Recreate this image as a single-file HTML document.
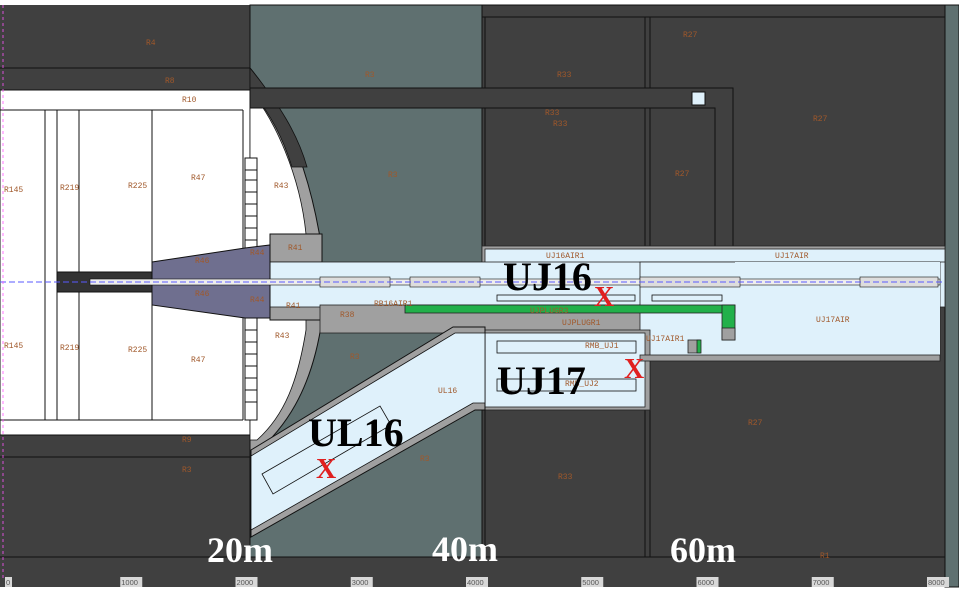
<!DOCTYPE html>
<html><head><meta charset="utf-8"><style>
html,body{margin:0;padding:0;background:#fff;width:959px;height:592px;overflow:hidden}
svg{display:block}
.lb{font-family:"Liberation Mono",monospace;font-size:8px;fill:#a0582a}
.big{font-family:"Liberation Serif",serif;font-weight:bold}
</style></head><body>
<svg id="geo" width="959" height="592" viewBox="0 0 959 592" xmlns="http://www.w3.org/2000/svg">
<rect x="0" y="0" width="959" height="592" fill="#fff"/>
<rect x="0" y="5" width="959" height="582" fill="#404040"/>
<g stroke="#111" stroke-width="1">
<line x1="0" y1="68" x2="250" y2="68"/>
<line x1="0" y1="90" x2="250" y2="90"/>
<rect x="0" y="90" width="250" height="345" fill="#fff"/>
<line x1="0" y1="457" x2="250" y2="457"/>
<line x1="0" y1="557" x2="250" y2="557"/>
<line x1="45" y1="110" x2="45" y2="420"/><line x1="57" y1="110" x2="57" y2="420"/>
<line x1="79" y1="110" x2="79" y2="420"/><line x1="152" y1="110" x2="152" y2="420"/>
<line x1="243" y1="110" x2="243" y2="420"/>
<line x1="0" y1="110" x2="243" y2="110"/><line x1="0" y1="420" x2="243" y2="420"/>
</g>
<rect x="250" y="5" width="232" height="552" fill="#5f7070" stroke="#111"/>
<g stroke="#111" fill="none">
<rect x="482" y="5" width="463" height="552" fill="#404040"/>
<line x1="482" y1="17" x2="945" y2="17"/>
<line x1="485" y1="17" x2="485" y2="557"/>
<line x1="645" y1="17" x2="645" y2="557"/><line x1="650" y1="17" x2="650" y2="557"/>
<rect x="945" y="5" width="14" height="582" fill="#5f7070"/>
</g>
<!-- cavern arc -->
<path d="M250,68 C285,110 310,170 322,250 L322,320 C312,390 285,430 250,458 Z" fill="#a0a0a0" stroke="#111"/>
<path d="M250,68 C280,105 298,135 307,167 L292,167 C282,135 268,110 250,90 Z" fill="#404040" stroke="#111" stroke-width="0.8"/>
<path d="M250,90 C275,120 300,175 306,234 L306,330 C298,380 285,415 257,440 L250,440 Z" fill="#fff" stroke="#111" stroke-width="0.8"/>
<g stroke="#111" fill="#fff">
<rect x="245" y="158" width="12" height="262"/>
<path d="M245,170H257M245,180H257M245,192H257M245,204H257M245,216H257M245,228H257M245,240H257M245,330H257M245,342H257M245,354H257M245,366H257M245,378H257M245,390H257M245,402H257"/>
</g>
<rect x="270" y="234" width="52" height="28" fill="#a0a0a0" stroke="#111"/>
<rect x="270" y="290" width="52" height="30" fill="#a0a0a0" stroke="#111"/>
<path d="M250,88 H733 V250 H715 V108 H250 Z" fill="#404040" stroke="#111"/>
<rect x="692" y="92" width="13" height="13" fill="#dff1fb" stroke="#111"/>
<g stroke="#222" stroke-width="0.8">
<rect x="482" y="246" width="463" height="18" fill="#a0a0a0"/>
<rect x="485" y="249" width="460" height="16" fill="#dff1fb"/>
<rect x="245" y="262" width="700" height="45" fill="#dff1fb"/>
<rect x="320" y="290" width="165" height="22" fill="#dff1fb" stroke="none"/>
<rect x="320" y="305" width="415" height="28" fill="#a0a0a0"/>
<rect x="640" y="262" width="300" height="96" fill="#dff1fb"/>
<rect x="735" y="262" width="205" height="96" fill="#dff1fb" stroke="none"/>
<rect x="405" y="305" width="330" height="8" fill="#22b04a"/>
<rect x="722" y="305" width="13" height="35" fill="#22b04a"/>
<rect x="722" y="328" width="13" height="12" fill="#a0a0a0"/>
<rect x="688" y="340" width="12" height="13" fill="#a0a0a0"/>
<rect x="697" y="340" width="4" height="13" fill="#22b04a"/>
<rect x="482" y="330" width="168" height="80" fill="#a0a0a0"/>
<rect x="485" y="333" width="160" height="74" fill="#dff1fb"/>
<rect x="497" y="341" width="139" height="12" fill="none" stroke="#111"/>
<rect x="497" y="379" width="139" height="12" fill="none" stroke="#111"/>
<rect x="497" y="295" width="138" height="6" fill="none" stroke="#111"/>
<rect x="652" y="295" width="70" height="6" fill="none" stroke="#111"/>
<rect x="640" y="355" width="300" height="6" fill="#a0a0a0"/>
</g>
<path d="M251,450 L453,327 L485,327 L485,410 L475,410 L251,537 Z" fill="#a0a0a0" stroke="#111"/>
<path d="M251,456 L455,333 L485,333 L485,403 L473,403 L251,530 Z" fill="#dff1fb" stroke="#111" stroke-width="0.8"/>
<path d="M262,474 L380,406 L391,425 L273,494 Z" fill="none" stroke="#111" stroke-width="0.8"/>
<path d="M152,262 L245,248 L270,245 L270,318 L245,318 L152,305 Z" fill="#6f6f8f" stroke="#111"/>
<rect x="57" y="272" width="95" height="20" fill="#333" stroke="#111"/>
<g stroke="#111" stroke-width="0.6" fill="#eee">
<rect x="90" y="279" width="850" height="6"/>
<rect x="320" y="277" width="70" height="10" fill="#ddd"/>
<rect x="410" y="277" width="70" height="10" fill="#ddd"/>
<rect x="640" y="277" width="100" height="10" fill="#ddd"/>
<rect x="860" y="277" width="78" height="10" fill="#ddd"/>
</g>
<line x1="0" y1="282" x2="945" y2="282" stroke="#5a5aff" stroke-dasharray="6,3" stroke-width="1"/>
<line x1="3" y1="5" x2="3" y2="580" stroke="#ff55ff" stroke-dasharray="3,3" stroke-width="0.8"/>
<g>
<text class="lb" x="146" y="45">R4</text><text class="lb" x="165" y="83">R8</text><text class="lb" x="182" y="102">R10</text>
<text class="lb" x="4" y="192">R145</text><text class="lb" x="60" y="190">R219</text><text class="lb" x="128" y="188">R225</text><text class="lb" x="191" y="180">R47</text>
<text class="lb" x="4" y="348">R145</text><text class="lb" x="60" y="350">R219</text><text class="lb" x="128" y="352">R225</text><text class="lb" x="191" y="362">R47</text>
<text class="lb" x="274" y="188">R43</text><text class="lb" x="275" y="338">R43</text><text class="lb" x="288" y="250">R41</text><text class="lb" x="286" y="308">R41</text>
<text class="lb" x="195" y="263">R46</text><text class="lb" x="195" y="296">R46</text><text class="lb" x="250" y="255">R44</text><text class="lb" x="250" y="302">R44</text>
<text class="lb" x="182" y="442">R9</text><text class="lb" x="182" y="472">R3</text>
<text class="lb" x="365" y="77">R3</text><text class="lb" x="388" y="177">R3</text><text class="lb" x="350" y="359">R3</text><text class="lb" x="420" y="461">R3</text>
<text class="lb" x="340" y="317">R38</text><text class="lb" x="374" y="306">RB16AIR1</text><text class="lb" x="438" y="393">UL16</text>
<text class="lb" x="557" y="77">R33</text><text class="lb" x="545" y="115">R33</text><text class="lb" x="553" y="126">R33</text><text class="lb" x="558" y="479">R33</text>
<text class="lb" x="683" y="37">R27</text><text class="lb" x="675" y="176">R27</text><text class="lb" x="813" y="121">R27</text><text class="lb" x="748" y="425">R27</text>
<text class="lb" x="546" y="258">UJ16AIR1</text><text class="lb" x="775" y="258">UJ17AIR</text><text class="lb" x="816" y="322">UJ17AIR</text>
<text class="lb" x="530" y="313">UJPLUGR3</text><text class="lb" x="562" y="325">UJPLUGR1</text><text class="lb" x="646" y="341">UJ17AIR1</text>
<text class="lb" x="585" y="348">RMB_UJ1</text><text class="lb" x="565" y="386">RMB_UJ2</text><text class="lb" x="820" y="558">R1</text>
</g>
<text class="big" x="308" y="446" font-size="40">UL16</text>
<text class="big" x="503" y="290" font-size="40">UJ16</text>
<text class="big" x="497" y="394" font-size="40">UJ17</text>
<text class="big" x="316" y="478" font-size="28" fill="#e02020">X</text>
<text class="big" x="594" y="306" font-size="28" fill="#e02020">X</text>
<text class="big" x="624" y="378" font-size="28" fill="#e02020">X</text>
<text class="big" x="207" y="562" font-size="36" fill="#fff">20m</text>
<text class="big" x="432" y="561" font-size="36" fill="#fff">40m</text>
<text class="big" x="670" y="562" font-size="36" fill="#fff">60m</text>
<g id="axis"></g>
</svg>
<script>
const tickValues = [0,1000,2000,3000,4000,5000,6000,7000,8000];
const tickLabels = ["0","1000","2000","3000","4000","5000","6000","7000","8000"];
function xScale(v){ return 5 + v * 0.11525; }
const ax = document.getElementById('axis');
const NS = 'http://www.w3.org/2000/svg';
tickValues.forEach((v,i)=>{
  const x = xScale(v);
  const r = document.createElementNS(NS,'rect');
  
  
  r.setAttribute('x', x); r.setAttribute('y', 577);
  r.setAttribute('width', tickLabels[i].length*5+2); r.setAttribute('height', 10);
  r.setAttribute('fill', '#d8d8d8');
  ax.appendChild(r);
  const t = document.createElementNS(NS,'text');
  
  
  t.setAttribute('x', x+1); t.setAttribute('y', 585);
  t.setAttribute('font-size', '7.5'); t.setAttribute('font-family', 'Liberation Sans, sans-serif');
  t.setAttribute('fill', '#555');
  t.textContent = tickLabels[i];
  ax.appendChild(t);
});
</script>
</body></html>
